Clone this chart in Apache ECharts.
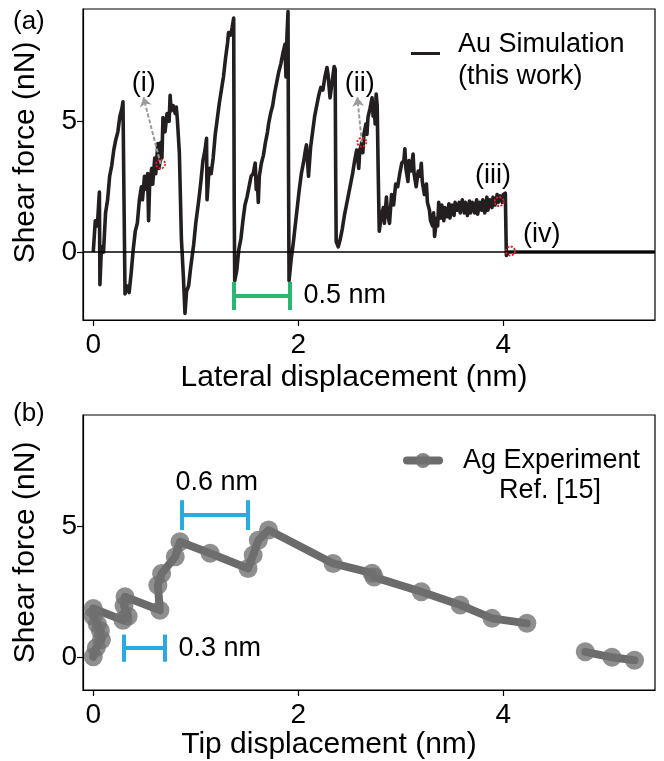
<!DOCTYPE html>
<html>
<head>
<meta charset="utf-8">
<script src="https://cdn.jsdelivr.net/npm/echarts@6/dist/echarts.min.js"></script>
<style>
html,body{margin:0;padding:0;background:#fff;}
#chart{width:664px;height:761px;}
</style>
</head>
<body>
<div id="chart"></div>
<script>
// ---------------- DATA ----------------
const xTicks = [0, 2, 4];
const yTicks = [0, 5];

// (a) Au simulation: [lateral displacement (nm), shear force (nN)]
const auCurve = [
  [0,0],[0.02,1.2],[0.04,1.0],[0.06,2.3],[0.065,-1.25],
  [0.08,0.2],[0.10,0.0],[0.12,1.5],[0.14,2.0],[0.16,2.9],[0.18,3.3],[0.20,3.9],[0.22,4.3],[0.24,4.6],[0.26,5.2],[0.28,5.5],[0.29,5.75],
  [0.30,2.0],[0.31,-1.6],
  [0.33,-1.3],[0.35,-1.55],[0.37,-0.8],[0.39,0.1],[0.41,0.8],[0.43,1.1],[0.45,2.0],[0.47,2.5],[0.48,2.0],[0.50,2.9],[0.52,2.4],[0.53,3.0],[0.54,1.2],[0.55,2.6],[0.57,3.2],[0.58,2.6],[0.60,3.6],[0.61,3.0],[0.63,4.15],[0.64,3.2],[0.65,3.4],[0.66,4.2],[0.67,3.6],[0.68,5.15],[0.70,4.6],[0.72,5.3],[0.74,5.0],[0.75,6.0],[0.76,5.4],[0.78,5.6],[0.80,5.3],[0.81,5.55],[0.82,5.1],
  [0.84,3.8],[0.86,0.5],[0.88,-1.0],[0.895,-2.35],
  [0.91,-1.5],[0.93,-1.3],[0.95,-0.6],[0.98,0.3],[1.00,1.1],[1.03,2.0],[1.05,2.7],[1.07,3.5],[1.09,3.9],[1.105,4.35],[1.11,2.0],[1.13,3.2],[1.15,3.0],[1.17,3.6],[1.19,4.5],[1.21,5.1],[1.23,5.7],[1.25,6.2],[1.27,6.7],[1.29,7.4],[1.31,8.0],[1.32,8.4],[1.34,8.3],[1.355,8.6],[1.37,8.95],
  [1.375,2.0],[1.38,-1.1],
  [1.40,-0.7],[1.42,0.1],[1.44,0.5],[1.46,1.2],[1.48,1.8],[1.50,2.1],[1.52,2.5],[1.54,2.9],[1.56,3.0],[1.58,3.4],[1.59,2.4],[1.60,2.8],[1.61,1.9],[1.62,2.9],[1.64,3.4],[1.66,3.7],[1.68,4.2],[1.70,4.6],[1.71,4.9],[1.73,5.3],[1.75,5.6],[1.77,6.1],[1.79,6.5],[1.81,6.9],[1.83,7.2],[1.85,7.6],[1.87,7.95],[1.88,6.7],[1.89,8.3],[1.90,9.2],
  [1.905,3.0],[1.91,-1.1],
  [1.93,-0.3],[1.95,0.3],[1.97,1.0],[1.99,1.7],[2.01,2.4],[2.03,3.0],[2.05,3.4],[2.07,3.9],[2.08,4.1],[2.10,2.9],[2.12,4.0],[2.14,4.6],[2.16,5.2],[2.18,5.6],[2.20,6.0],[2.22,6.3],[2.24,6.2],[2.26,6.7],[2.28,7.06],[2.29,6.8],[2.31,5.9],[2.33,6.5],[2.35,7.1],[2.36,7.0],
  [2.365,3.0],[2.37,0.4],[2.39,0.2],
  [2.41,0.5],[2.43,0.9],[2.45,1.4],[2.47,1.8],[2.49,2.2],[2.51,2.6],[2.53,3.0],[2.55,3.5],[2.57,3.9],[2.58,3.6],[2.59,3.2],[2.60,3.9],[2.62,4.2],[2.63,3.8],[2.64,4.5],[2.66,4.9],[2.67,4.5],[2.68,5.15],[2.70,5.5],[2.72,5.9],[2.73,5.2],[2.74,5.6],[2.75,4.9],[2.76,6.05],[2.77,5.6],
  [2.78,3.0],[2.79,0.8],
  [2.81,1.4],[2.83,1.7],[2.84,1.1],[2.86,2.1],[2.87,1.5],[2.89,1.1],[2.91,2.2],[2.93,1.8],[2.95,2.6],[2.97,2.5],[2.99,3.0],[3.01,3.4],[3.03,3.5],[3.04,3.95],[3.05,3.2],[3.07,2.7],[3.08,3.5],[3.10,3.1],[3.12,3.75],[3.13,3.0],[3.15,2.5],[3.17,3.1],[3.19,2.9],[3.20,3.4],[3.21,2.7],[3.23,2.2],[3.25,2.6],[3.26,1.9],[3.28,1.6],[3.29,1.2],[3.31,1.0],[3.32,1.5],[3.33,0.6],[3.35,1.3],[3.36,1.0],[3.37,1.9],[3.39,1.3],[3.40,1.8],[3.42,1.2],[3.43,1.7],[3.45,1.35],[3.47,1.85],[3.48,1.3],[3.50,1.8],[3.52,1.4],[3.53,1.9],[3.55,1.6],[3.57,1.9],[3.58,1.5],[3.60,2.0],[3.62,1.5],[3.63,1.9],[3.65,1.4],[3.67,1.95],[3.68,1.5],[3.70,1.9],[3.72,1.5],[3.74,2.0],[3.75,1.45],[3.77,1.9],[3.79,1.6],[3.80,2.0],[3.82,1.5],[3.84,2.1],[3.85,1.6],[3.87,2.0],[3.89,1.7],[3.90,2.1],[3.92,1.8],[3.94,2.2],[3.95,1.9],[3.97,2.15],[3.99,1.9],[4.00,2.2],[4.02,2.25],
  [4.025,1.0],[4.03,-0.13],[4.05,0.0],[5.48,0.0]
];

// (a) marked states (i)-(iv): red circles, label positions, arrows
const stateNames = ['(i)', '(ii)', '(iii)', '(iv)'];
const stateMarks = [[0.657,3.37],[2.62,4.2],[3.96,1.93],[4.07,0.04]];
const stateLabelPos = [[0.493,6.46],[2.60,6.46],[3.90,2.93],[4.375,0.68]];
const arrowTips = [[0.49,5.92],[2.576,5.92]];

// (a) 0.5 nm scale bar
const greenBarX = [1.375, 1.915];
const greenBarY = -1.68;
const greenCap = 0.54;
const greenLabel = { text: '0.5 nm', pos: [2.045, -1.68] };

// (b) Ag experiment: [tip displacement (nm), shear force (nN)]
const agMain = [
  [0,0],[0.03,0.35],[0.08,0.65],[0.07,1.0],[0.04,1.25],[0.0,1.55],[0.0,1.85],
  [0.29,1.40],[0.34,1.55],[0.30,1.95],[0.31,2.3],
  [0.65,1.78],[0.63,2.74],[0.667,3.19],[0.80,3.83],[0.846,4.40],
  [1.14,3.96],[1.51,3.38],[1.56,3.89],[1.61,4.46],[1.71,4.85],
  [2.34,3.57],[2.72,3.2],[2.74,3.05],[3.20,2.49],[3.58,1.98],[3.89,1.47],[4.23,1.28]
];
const agTail = [[4.80,0.19],[5.06,-0.02],[5.28,-0.13]];

// (b) scale bars
const blueBars = [
  { x: [0.862, 1.512], y: 5.42, cap: 0.57 },
  { x: [0.293, 0.70], y: 0.33, cap: 0.52 }
];
const blueLabels = [
  { text: '0.6 nm', pos: [1.204, 6.65], place: 'inside' },
  { text: '0.3 nm', pos: [0.826, 0.33], place: 'right' }
];

// ---------------- CHART ----------------
const FONT = '"Liberation Sans", Arial, Helvetica, sans-serif';
const chart = echarts.init(document.getElementById('chart'), null, { renderer: 'canvas' });

function barLines(xs, y, cap) {
  return [
    { coords: [[xs[0], y], [xs[1], y]] },
    { coords: [[xs[0], y - cap], [xs[0], y + cap]] },
    { coords: [[xs[1], y - cap], [xs[1], y + cap]] }
  ];
}

function xAxisCfg(gridIndex, name, padRight, gap) {
  return {
    type: 'value', gridIndex, min: -0.1, max: 5.48,
    name, nameLocation: 'middle', nameGap: gap,
    nameTextStyle: { fontFamily: FONT, fontSize: 30, color: '#000', padding: [0, padRight, 0, 0] },
    axisLine: { show: true, onZero: false, lineStyle: { color: '#000', width: 1.2 } },
    axisTick: { show: true, customValues: xTicks, length: 6, lineStyle: { color: '#000', width: 1.2 } },
    axisLabel: { show: true, customValues: xTicks, margin: 11, fontFamily: FONT, fontSize: 28, color: '#000' },
    splitLine: { show: false }
  };
}
function yAxisCfg(gridIndex, min, max, padLeft) {
  return {
    type: 'value', gridIndex, min, max,
    name: 'Shear force (nN)', nameLocation: 'middle', nameGap: 42,
    nameTextStyle: { fontFamily: FONT, fontSize: 30, color: '#000', padding: [0, 0, 0, padLeft] },
    axisLine: { show: true, onZero: false, lineStyle: { color: '#000', width: 1.2 } },
    axisTick: { show: true, customValues: yTicks, length: 6, lineStyle: { color: '#000', width: 1.2 } },
    axisLabel: { show: true, customValues: yTicks, margin: 6, fontFamily: FONT, fontSize: 28, color: '#000' },
    splitLine: { show: false }
  };
}

const textLabel = (extra) => Object.assign({
  show: true, formatter: '{b}', fontFamily: FONT, fontSize: 27, color: '#000',
  opacity: 1, textBorderWidth: 0
}, extra);

const option = {
  animation: false,
  backgroundColor: '#fff',
  title: [
    { text: '(a)', left: 8, top: 4, textStyle: { fontFamily: FONT, fontSize: 26, fontWeight: 'normal', color: '#000' } },
    { text: '(b)', left: 8, top: 396, textStyle: { fontFamily: FONT, fontSize: 26, fontWeight: 'normal', color: '#000' } }
  ],
  grid: [
    { left: 83, top: 9, width: 572, height: 311, show: true, borderColor: '#000', borderWidth: 1.2, backgroundColor: 'transparent' },
    { left: 83, top: 415, width: 572, height: 275, show: true, borderColor: '#000', borderWidth: 1.2, backgroundColor: 'transparent' }
  ],
  xAxis: [
    xAxisCfg(0, 'Lateral displacement (nm)', 30, 43),
    xAxisCfg(1, 'Tip displacement (nm)', 80, 40)
  ],
  yAxis: [
    yAxisCfg(0, -2.6, 9.3, 24),
    yAxisCfg(1, -1.27, 9.25, 0)
  ],
  legend: [
    {
      data: [{ name: 'Au Simulation\n(this work)', icon: 'rect' }], left: 406, top: 26, orient: 'vertical',
      itemWidth: 29, itemHeight: 3,
      itemStyle: { color: '#231f20', borderWidth: 0 },
      formatter: function () { return '{a|Au Simulation}\n{a|(this work)}'; },
      textStyle: {
        fontFamily: FONT, fontSize: 27, color: '#000', padding: [14, 0, 0, 13],
        rich: { a: { fontFamily: FONT, fontSize: 27, color: '#000', lineHeight: 32 } }
      },
      selectedMode: false
    },
    {
      data: ['Ag Experiment Ref. [15]'], left: 398, top: 442, orient: 'vertical',
      itemWidth: 32, itemHeight: 19,
      lineStyle: { width: 8, color: '#6b6b6b', cap: 'round' },
      itemStyle: { color: 'rgba(112,112,112,0.85)' },
      formatter: function () { return '{a|Ag Experiment}\n{b|Ref. [15]}'; },
      textStyle: {
        fontFamily: FONT, fontSize: 27, color: '#000', padding: [30, 0, 0, 19],
        rich: {
          a: { fontFamily: FONT, fontSize: 27, color: '#000', lineHeight: 30 },
          b: { fontFamily: FONT, fontSize: 27, color: '#000', lineHeight: 30, padding: [0, 0, 0, 36] }
        }
      },
      selectedMode: false
    }
  ],
  series: [
    {
      name: 'Au Simulation\n(this work)', type: 'line', xAxisIndex: 0, yAxisIndex: 0,
      data: auCurve, showSymbol: false, symbol: 'none',
      lineStyle: { color: '#231f20', width: 3.6, join: 'round' },
      itemStyle: { color: '#231f20' },
      z: 3,
      markLine: {
        silent: true, symbol: ['none', 'none'], label: { show: false },
        lineStyle: { color: '#000', width: 1.5, type: 'solid' },
        data: [{ yAxis: 0 }]
      }
    },
    {
      name: 'arrows', type: 'lines', coordinateSystem: 'cartesian2d', xAxisIndex: 0, yAxisIndex: 0,
      data: arrowTips.map((t, i) => ({ coords: [stateMarks[i], t] })),
      symbol: ['none', 'arrow'], symbolSize: 9,
      lineStyle: { color: '#9b9b9b', width: 2, type: [4, 2], opacity: 1 },
      z: 4
    },
    {
      name: 'states', type: 'scatter', xAxisIndex: 0, yAxisIndex: 0,
      data: stateMarks, symbol: 'circle', symbolSize: 9,
      itemStyle: { color: 'rgba(255,255,255,0)', borderColor: '#ee1c25', borderWidth: 1.8, borderType: [2, 1.5], opacity: 1 },
      z: 5
    },
    {
      name: 'state labels', type: 'scatter', xAxisIndex: 0, yAxisIndex: 0,
      data: stateLabelPos.map((p, i) => ({ value: p, name: stateNames[i] })),
      symbolSize: 1, itemStyle: { color: 'rgba(0,0,0,0)', opacity: 1 },
      label: textLabel({ position: 'inside' }),
      z: 6
    },
    {
      name: 'green bar', type: 'lines', coordinateSystem: 'cartesian2d', xAxisIndex: 0, yAxisIndex: 0,
      data: barLines(greenBarX, greenBarY, greenCap), symbol: ['none', 'none'],
      lineStyle: { color: '#2cb673', width: 4, opacity: 1, cap: 'butt' }, z: 6
    },
    {
      name: 'green label', type: 'scatter', xAxisIndex: 0, yAxisIndex: 0,
      data: [{ value: greenLabel.pos, name: greenLabel.text }],
      symbolSize: 1, itemStyle: { color: 'rgba(0,0,0,0)', opacity: 1 },
      label: textLabel({ position: 'right', distance: 0 })
    },
    {
      name: 'Ag Experiment Ref. [15]', type: 'line', xAxisIndex: 1, yAxisIndex: 1,
      data: agMain, symbol: 'circle', symbolSize: 19, showSymbol: true,
      lineStyle: { color: '#6b6b6b', width: 8, cap: 'round', join: 'round' },
      itemStyle: { color: 'rgba(112,112,112,0.78)', borderWidth: 0 },
      z: 3
    },
    {
      name: 'Ag Experiment Ref. [15]', type: 'line', xAxisIndex: 1, yAxisIndex: 1,
      data: agTail, symbol: 'circle', symbolSize: 19, showSymbol: true,
      lineStyle: { color: '#6b6b6b', width: 8, cap: 'round', join: 'round' },
      itemStyle: { color: 'rgba(112,112,112,0.78)', borderWidth: 0 },
      z: 3
    },
    {
      name: 'blue bars', type: 'lines', coordinateSystem: 'cartesian2d', xAxisIndex: 1, yAxisIndex: 1,
      data: blueBars.flatMap(b => barLines(b.x, b.y, b.cap)), symbol: ['none', 'none'],
      lineStyle: { color: '#29aae1', width: 4, opacity: 1, cap: 'butt' }, z: 6
    },
    {
      name: 'blue labels', type: 'scatter', xAxisIndex: 1, yAxisIndex: 1,
      data: blueLabels.map(l => ({ value: l.pos, name: l.text, label: { position: l.place } })),
      symbolSize: 1, itemStyle: { color: 'rgba(0,0,0,0)', opacity: 1 },
      label: textLabel({ distance: 0 })
    }
  ]
};
chart.setOption(option);
</script>
</body>
</html>
